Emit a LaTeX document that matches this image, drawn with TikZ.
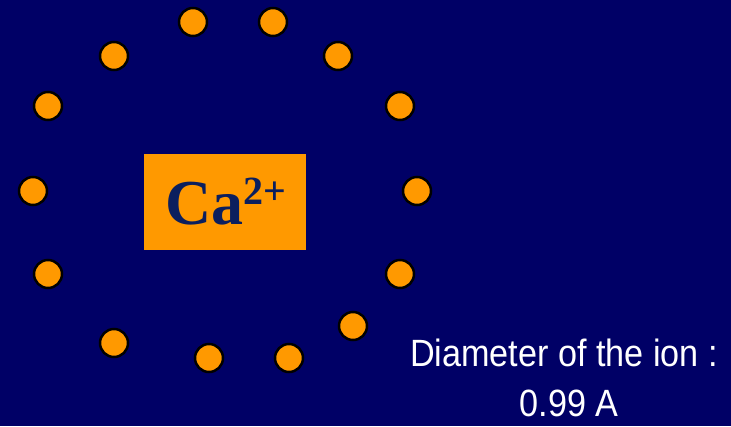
\documentclass[tikz,border=0pt]{standalone}
\usepackage{fontspec}
\setmainfont{Liberation Serif}
\newfontfamily\labelfont{Liberation Sans}
\definecolor{bgnavy}{HTML}{000066}
\definecolor{ionorange}{HTML}{FF9900}
\definecolor{ionnavy}{HTML}{0B1F5E}
\begin{document}
\begin{tikzpicture}[x=1pt,y=-1pt,
  electron/.style={circle,fill=ionorange,draw=black,line width=2.5pt,minimum size=28pt,inner sep=0pt},
  ionbox/.style={fill=ionorange,minimum width=162pt,minimum height=96pt,inner sep=0pt},
  caption/.style={text=white,font=\labelfont\fontsize{38}{38}\selectfont,xscale=0.9,transform shape,inner sep=0pt}]
\fill[bgnavy] (0,0) rectangle (731,426);
\useasboundingbox (0,0) rectangle (731,426);
\node[ionbox] (box) at (225,202) {};
\node[anchor=base west,inner sep=0pt,text=ionnavy] (ion) at (165,224)
  {\bfseries\fontsize{64}{64}\selectfont Ca\raisebox{20pt}{\fontsize{40}{40}\selectfont 2+}};
\foreach \n/\x/\y in {e1/193/22, e2/273/22, e3/114/56, e4/338/56, e5/48/106, e6/400/106,
  e7/33/191, e8/417/191, e9/48/274, e10/400/274, e11/353/326, e12/114/343, e13/209/358, e14/289/358}
  \node[electron] (\n) at (\x,\y) {};
\node[caption,anchor=base] (cap1) at (564,366) {Diameter of the ion :};
\node[caption,anchor=base] (cap2) at (569,416) {0.99 A};
\end{tikzpicture}
\end{document}
